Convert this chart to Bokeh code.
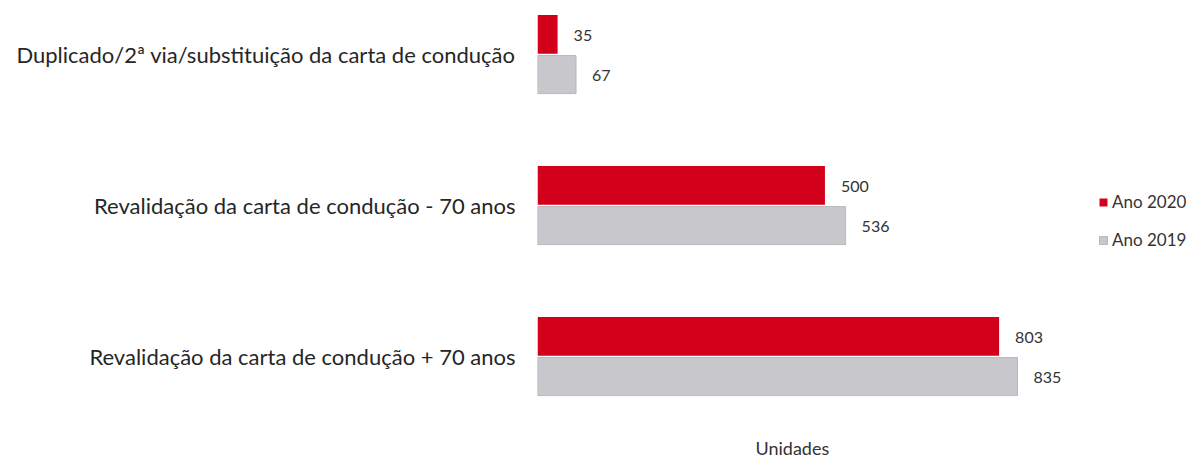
from bokeh.plotting import figure
from bokeh.models import ColumnDataSource, FixedTicker, Range1d, Legend, LegendItem, Title
from bokeh.transform import dodge
from bokeh.embed import file_html
from bokeh.resources import INLINE

categories = ["Revalidação da carta de condução + 70 anos",
              "Revalidação da carta de condução - 70 anos",
              "Duplicado/2ª via/substituição da carta de condução"]
positions = [0, 1, 2]
ano_2020 = [803, 500, 35]
ano_2019 = [835, 536, 67]
series_names = ["Ano 2020", "Ano 2019"]

FONT = "Lato"
RED = "#d2001a"
GREY = "#c8c8cc"

src = ColumnDataSource(dict(
    y=positions, v20=ano_2020, v19=ano_2019,
    t20=[str(v) for v in ano_2020], t19=[str(v) for v in ano_2019],
))

p = figure(frame_width=649, frame_height=426,
           min_border_left=537, min_border_right=0, min_border_top=8, min_border_bottom=0,
           x_range=Range1d(0, 1129), y_range=Range1d(-0.5166, 2.3046),
           x_axis_location=None, output_backend="svg", toolbar_location=None,
           background_fill_color="white", border_fill_color="white")
p.outline_line_color = None
p.grid.visible = False

r20 = p.hbar(y=dodge("y", 0.133, range=p.y_range), right="v20", left=0, height=0.256,
             source=src, fill_color=RED, line_color=None)
r19 = p.hbar(y=dodge("y", -0.133, range=p.y_range), right="v19", left=0, height=0.252,
             source=src, fill_color=GREY, line_color="#b9b9bd", line_width=1)

p.text(x="v20", y=dodge("y", 0.133, range=p.y_range), text="t20", source=src,
       x_offset=16, y_offset=1, text_align="left", text_baseline="middle",
       text_font_size="16px", text_color="#333333", text_font={"value": FONT})
p.text(x="v19", y=dodge("y", -0.133, range=p.y_range), text="t19", source=src,
       x_offset=16, y_offset=1, text_align="left", text_baseline="middle",
       text_font_size="16px", text_color="#333333", text_font={"value": FONT})

ax = p.yaxis[0]
ax.ticker = FixedTicker(ticks=positions)
ax.major_label_overrides = {pos: cat for pos, cat in zip(positions, categories)}
ax.axis_line_color = None
ax.major_tick_line_color = None
ax.minor_tick_line_color = None
ax.major_tick_out = 0
ax.major_label_standoff = 22
ax.major_label_text_font = FONT
ax.major_label_text_font_size = "22px"
ax.major_label_text_color = "#262626"

legend = Legend(items=[LegendItem(label=series_names[0], renderers=[r20]),
                       LegendItem(label=series_names[1], renderers=[r19])],
                location=(561, 184), padding=0, margin=0, spacing=17,
                glyph_width=10, glyph_height=10, label_height=20, label_standoff=4,
                label_text_font=FONT, label_text_font_size="17px", label_text_color="#333333",
                border_line_color=None, background_fill_alpha=0)
p.add_layout(legend, "center")

p.add_layout(Title(text="Unidades", align="left", offset=218, standoff=0,
                   text_font=FONT, text_font_size="18px", text_font_style="normal",
                   text_color="#333333"), "below")

open("out.html", "w").write(file_html(p, INLINE))
